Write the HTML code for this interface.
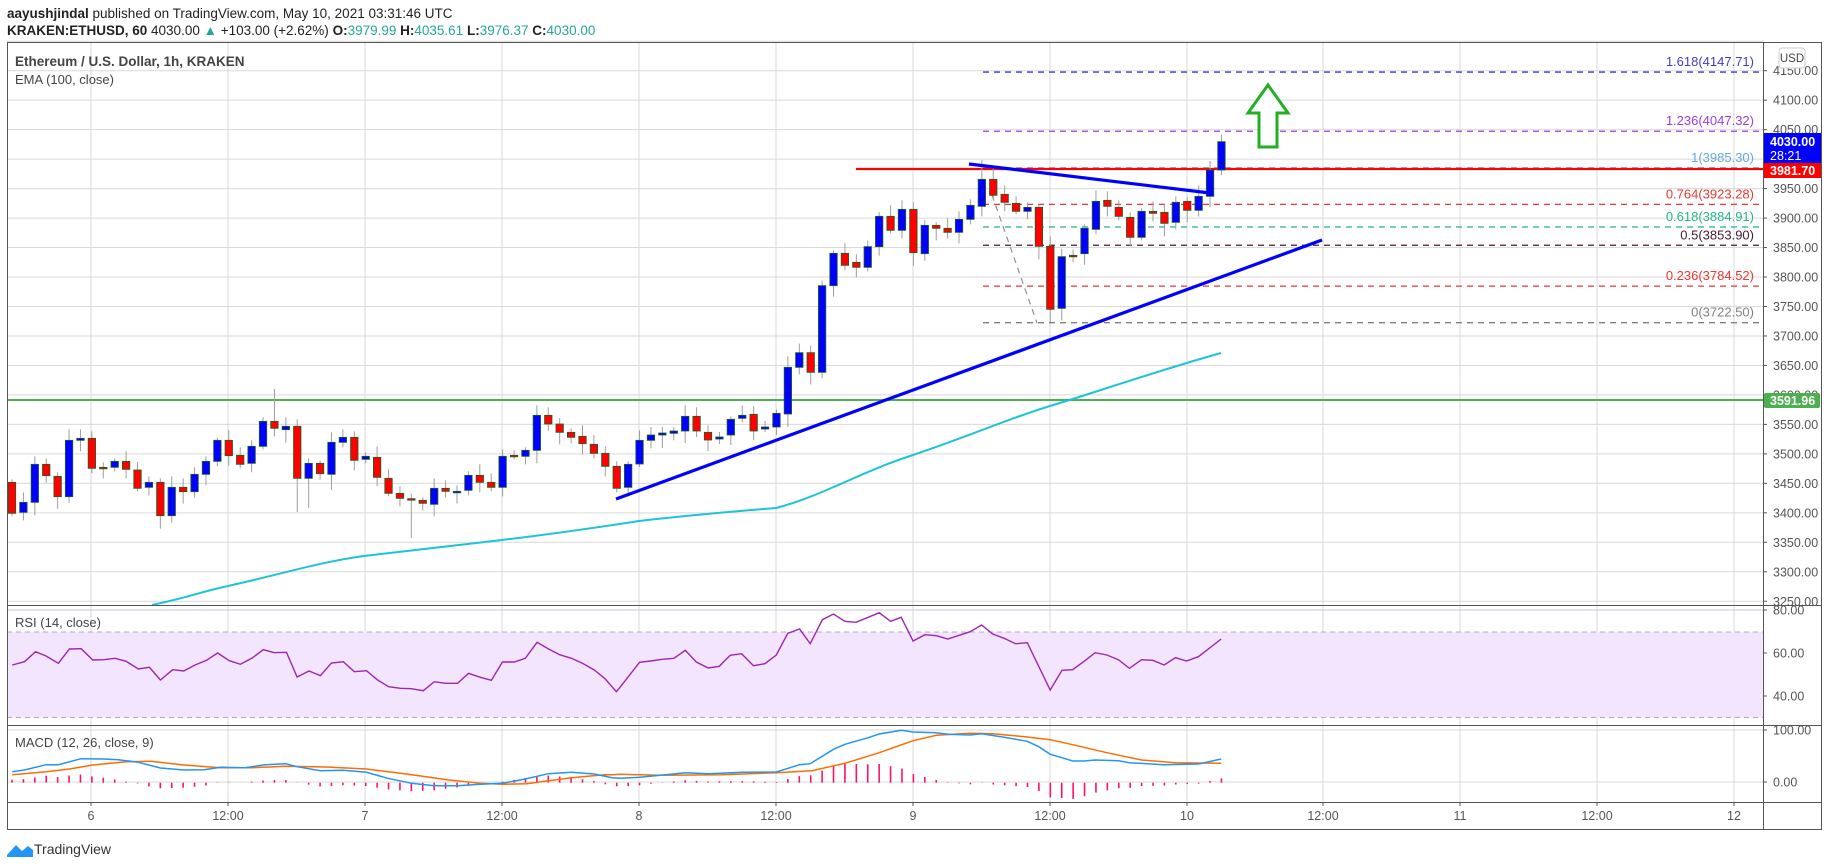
<!DOCTYPE html>
<html><head><meta charset="utf-8"><style>
html,body{margin:0;padding:0;background:#fff;width:1828px;height:867px;overflow:hidden;font-family:"Liberation Sans",sans-serif}
svg text{font-family:"Liberation Sans",sans-serif}
</style></head><body>
<svg id="s" width="1828" height="867" xmlns="http://www.w3.org/2000/svg">
<rect width="1828" height="867" fill="#fff"/>
<text x="7" y="18" font-size="13.5" fill="#222"><tspan font-weight="bold">aayushjindal</tspan> published on TradingView.com, May 10, 2021 03:31:46 UTC</text>
<text x="7" y="35" font-size="13.5" fill="#222"><tspan font-weight="bold">KRAKEN:ETHUSD, 60</tspan> 4030.00 <tspan fill="#26a69a">▲</tspan> +103.00 (+2.62%) <tspan font-weight="bold">O:</tspan><tspan fill="#26a69a">3979.99</tspan> <tspan font-weight="bold">H:</tspan><tspan fill="#26a69a">4035.61</tspan> <tspan font-weight="bold">L:</tspan><tspan fill="#26a69a">3976.37</tspan> <tspan font-weight="bold">C:</tspan><tspan fill="#26a69a">4030.00</tspan></text>
<g id="grid"></g>
<rect x="7" y="632" width="1756" height="85.5" fill="#f3e5fd"/>
<line x1="7" y1="632" x2="1763" y2="632" stroke="#b9a8c4" stroke-dasharray="5,4"/>
<line x1="7" y1="717.5" x2="1763" y2="717.5" stroke="#b9a8c4" stroke-dasharray="5,4"/>
<g id="fib"></g>
<g id="draw"></g>
<g id="candles"></g>
<g id="ind"></g>
<rect x="7.5" y="42.5" width="1814" height="787" fill="none" stroke="#555"/>
<line x1="1763.5" y1="42" x2="1763.5" y2="830" stroke="#555"/>
<line x1="7" y1="605.5" x2="1822" y2="605.5" stroke="#555"/>
<line x1="7" y1="725.5" x2="1822" y2="725.5" stroke="#555"/>
<line x1="7" y1="802.5" x2="1822" y2="802.5" stroke="#555"/>
<g id="axis" font-size="12.5" fill="#555"></g>
<text x="15" y="66" font-size="13.5" font-weight="bold" fill="#444">Ethereum / U.S. Dollar, 1h, KRAKEN</text>
<text x="15" y="84" font-size="13" fill="#444">EMA (100, close)</text>
<text x="15" y="627" font-size="13" fill="#444">RSI (14, close)</text>
<text x="15" y="747" font-size="13" fill="#444">MACD (12, 26, close, 9)</text>
<rect x="1779" y="48" width="26" height="20" rx="3" fill="#fff" stroke="#ccc"/>
<text x="1792" y="62" font-size="11.5" fill="#444" text-anchor="middle">USD</text>
<rect x="1764" y="133" width="57" height="31" fill="#0000ff"/>
<text x="1770" y="146" font-size="12.5" font-weight="bold" fill="#fff">4030.00</text>
<text x="1770" y="160" font-size="12.5" fill="#fff">28:21</text>
<rect x="1764" y="163" width="57" height="15" fill="#ff0000"/>
<text x="1770" y="175" font-size="12.5" font-weight="bold" fill="#fff">3981.70</text>
<rect x="1764" y="393" width="56" height="15" rx="2" fill="#4caf50"/>
<text x="1770" y="405" font-size="12.5" font-weight="bold" fill="#fff">3591.96</text>
<path d="M7 855 L16 845 L22 851 L28 846 L33 850 L33 857 L7 857 Z" fill="#2196f3"/>
<text x="34" y="854" font-size="14" fill="#333">TradingView</text>
</svg>
<script>
var NS="http://www.w3.org/2000/svg";
function el(p,t,a,txt){var e=document.createElementNS(NS,t);for(var k in a)e.setAttribute(k,a[k]);if(txt!==undefined)e.textContent=txt;document.getElementById(p).appendChild(e);return e;}
function Y(p){return 70.7+(4150-p)*0.5895;}
var vx=[91,228,365,502,639,776,913,1050,1187,1323,1460,1597,1734];
var vl=["6","12:00","7","12:00","8","12:00","9","12:00","10","12:00","11","12:00","12"];
vx.forEach(function(x,i){el("grid","line",{x1:x,y1:42,x2:x,y2:802,stroke:"#d9d9d9"});
 el("axis","line",{x1:x,y1:802,x2:x,y2:806,stroke:"#555"});
 el("axis","text",{x:x,y:820,"text-anchor":"middle"},vl[i]);});
for(var p=4200;p>=3250;p-=50){var y=Y(p);el("grid","line",{x1:7,y1:y,x2:1763,y2:y,stroke:"#d9d9d9"});
 if(p<=4150){el("axis","line",{x1:1763,y1:y,x2:1767,y2:y,stroke:"#555"});el("axis","text",{x:1773,y:y+4.5},p.toFixed(2));}}
[[80,610],[60,653],[40,696]].forEach(function(a){el("grid","line",{x1:7,y1:a[1],x2:1763,y2:a[1],stroke:"#d0c0da"});
 el("axis","line",{x1:1763,y1:a[1],x2:1767,y2:a[1],stroke:"#555"});el("axis","text",{x:1773,y:a[1]+4.5},a[0].toFixed(2));});
[[100,730],[0,782]].forEach(function(a){el("grid","line",{x1:7,y1:a[1],x2:1763,y2:a[1],stroke:"#d9d9d9"});
 el("axis","line",{x1:1763,y1:a[1],x2:1767,y2:a[1],stroke:"#555"});el("axis","text",{x:1773,y:a[1]+4.5},a[0].toFixed(2));});
var fib=[["1.618(4147.71)",4147.71,"#3d3dc8"],["1.236(4047.32)",4047.32,"#9c3ddc"],["1(3985.30)",3985.30,"#64a8e0"],["0.764(3923.28)",3923.28,"#e53935"],["0.618(3884.91)",3884.91,"#26b58a"],["0.5(3853.90)",3853.90,"#4a1a30"],["0.236(3784.52)",3784.52,"#e53935"],["0(3722.50)",3722.50,"#808080"]];
fib.forEach(function(f){var y=Y(f[1]);el("fib","line",{x1:983,y1:y,x2:1763,y2:y,stroke:f[2],"stroke-width":1.3,"stroke-dasharray":"6,5"});
 el("fib","text",{x:1754,y:y-6,"text-anchor":"end","font-size":"13",fill:f[2]},f[0]);});
el("draw","line",{x1:7,y1:400,x2:1763,y2:400,stroke:"#4caf50","stroke-width":2});
el("draw","line",{x1:856,y1:169,x2:1763,y2:169,stroke:"#ff0000","stroke-width":2.2});
el("draw","line",{x1:992,y1:195,x2:1037,y2:323,stroke:"#909090","stroke-width":1.2,"stroke-dasharray":"6,5"});
el("draw","path",{d:"M1268 85 L1288 113 L1277 113 L1277 147 L1259 147 L1259 113 L1248 113 Z",fill:"#fff",stroke:"#22b022","stroke-width":3,"stroke-linejoin":"miter"});
var A=[[307,400],[397,367],[367,253],[253,287],[289,350],[350,181],[181,175],[175,265],[262,265],[262,244],[244,268],[270,325],[322,307],[307,407],[407,322],[322,335],[335,283],[283,244],[244,181],[181,227],[226,253],[250,199],[199,124],[124,145],[149,139],[139,295],[295,250],[250,281],[283,187],[187,172],[172,241],[238,229],[232,292],[295,340],[340,355],[356,358],[361,370],[373,325],[325,334],[337,334],[331,286],[286,307],[307,322],[322,229],[226,229],[229,211],[211,106],[106,132],[132,157],[157,172],[169,191],[193,220],[220,259],[259,325],[322,253]];
var B=[[972,901],[901,885],[885,879],[880,873],[873,829],[829,873],[877,900],[897,891],[885,838],[835,826],[823,873],[867,861],[861,820],[822,682],[682,638],[638,697],[697,437],[437,340],[340,376],[367,382],[382,320],[320,229],[229,271],[271,208],[208,338],[341,256],[256,265],[265,277],[277,238],[238,196],[199,118],[118,166],[163,187],[190,214],[214,202],[202,319],[319,508],[505,350],[346,349],[341,265],[268,184],[181,199],[202,229],[232,292],[292,214],[214,220],[217,250],[247,187],[184,211],[211,169],[169,90],[90,5]];
var C=[];A.forEach(function(a){C.push([380+a[0]/3,380+a[1]/3]);});B.forEach(function(b){C.push([140+b[0]/3,140+b[1]/3]);});
var wk={23:[389,null],35:[null,538],25:[null,512],26:[null,508],91:[null,322],85:[160,null],28:[null,490]};
C.forEach(function(c,i){var x=12+i*11.41;var top=Math.min(c[0],c[1]),bot=Math.max(c[0],c[1]);
 var up=c[1]<c[0];var wt=top-3-(i*7%9),wb=bot+3+(i*5%11);
 if(wk[i]){if(wk[i][0])wt=wk[i][0];if(wk[i][1])wb=wk[i][1];}
 el("candles","line",{x1:x,y1:wt,x2:x,y2:wb,stroke:"#9e9e9e","stroke-width":1});
 var h=Math.max(bot-top,1.5);
 el("candles","rect",{x:x-3.7,y:top,width:7.4,height:h,fill:up?"#0000ff":"#ff0000",stroke:"#1b5e20","stroke-width":0.8});});
el("candles","line",{x1:616,y1:499,x2:1322,y2:240,stroke:"#0000ff","stroke-width":3.2});
el("candles","line",{x1:969,y1:164,x2:1210,y2:193,stroke:"#0000ff","stroke-width":3.2});
el("candles","path",{d:"M152 605 C190 597 200 592 228 586 C290 572 320 562 364 556 C430 548 460 545 502 540 C560 533 600 527 639 521 C700 514 740 511 776 508 C820 497 860 472 913 455 C970 436 1010 418 1050 406 C1100 391 1150 373 1221 353",fill:"none",stroke:"#1ec3d8","stroke-width":2});
function conv(list,x0){return list.map(function(p){return [x0+p[0]/2.45,600+p[1]/3];});}
function pl(pts,col,w){el("ind","polyline",{points:pts.map(function(p){return p[0].toFixed(1)+","+p[1].toFixed(1)}).join(" "),fill:"none",stroke:col,"stroke-width":w});}
var r6=[[30,195],[60,185],[87,155],[113,168],[143,190],[170,147],[199,146],[227,180],[254,179],[282,175],[309,184],[339,207],[366,202],[393,240],[423,209],[450,213],[478,195],[506,181],[533,159],[562,182],[589,193],[618,174],[645,149],[672,158],[702,157],[728,231],[757,213],[785,227],[812,189],[841,185],[868,215],[898,212],[925,240],[952,260],[981,265],[1008,266],[1037,272],[1064,245],[1091,250],[1121,250],[1148,220],[1177,232],[1204,241],[1231,186],[1260,186],[1287,175],[1316,127],[1343,146],[1371,164],[1400,175],[1427,190],[1456,210],[1483,237],[1510,275]];
var r7=[[0,262],[48,187],[75,183],[104,178],[132,175],[160,151],[187,186],[216,204],[243,199],[270,166],[298,161],[327,197],[355,191],[383,165],[411,100],[440,87],[466,131],[496,59],[523,42],[551,64],[578,67],[608,52],[635,38],[663,64],[689,52],[718,123],[747,104],[775,107],[803,117],[831,106],[858,95],[886,75],[913,102],[941,115],[969,131],[998,128],[1054,270],[1083,211],[1109,209],[1137,184],[1164,158],[1193,165],[1221,179],[1248,205],[1278,179],[1305,181],[1333,195],[1361,173],[1388,183],[1417,170],[1473,117]];
pl(conv(r6,0).concat(conv(r7,620)),"#9c27b0",1.4);
var b6=[[30,515],[60,510],[113,494],[143,494],[199,476],[254,477],[290,479],[339,487],[393,504],[450,510],[500,509],[540,502],[600,503],[650,494],[700,491],[728,500],[785,512],[841,511],[898,517],[950,535],[1008,550],[1064,557],[1121,557],[1177,553],[1231,550],[1287,537],[1343,521],[1400,517],[1456,522],[1500,533]];
var b7=[[0,535],[48,532],[130,522],[160,518],[216,521],[300,517],[383,516],[440,494],[466,491],[523,448],[551,433],[608,413],[635,402],[689,391],[718,396],[775,398],[803,403],[858,405],[886,401],[941,412],[998,424],[1026,440],[1054,463],[1083,473],[1109,483],[1137,483],[1164,480],[1221,482],[1248,488],[1333,494],[1417,492],[1473,477]];
var o6=[[30,524],[113,515],[170,507],[227,495],[310,485],[370,484],[450,495],[540,503],[620,503],[700,499],[800,501],[898,507],[1000,523],[1100,540],[1177,550],[1231,553],[1290,551],[1400,533],[1480,524],[1500,524]];
var o7=[[0,523],[100,526],[250,524],[383,518],[470,512],[551,490],[635,458],[718,422],[775,406],[858,400],[913,401],[998,411],[1054,419],[1109,434],[1193,458],[1278,480],[1361,488],[1473,490]];
var BL=conv(b6,0).concat(conv(b7,620)),OR=conv(o6,0).concat(conv(o7,620));
function interp(L,x){for(var i=0;i<L.length-1;i++){if(x>=L[i][0]&&x<=L[i+1][0]){var t=(x-L[i][0])/(L[i+1][0]-L[i][0]);return L[i][1]+t*(L[i+1][1]-L[i][1]);}}return x<L[0][0]?L[0][1]:L[L.length-1][1];}
for(var i=0;i<107;i++){var x=12+i*11.41;var d=interp(OR,x)-interp(BL,x);var z=782.7;
 el("ind","line",{x1:x,y1:z,x2:x,y2:z-d,stroke:"#ff1070","stroke-width":1.6});}
pl(OR,"#ff6d00",1.5);
pl(BL,"#2196f3",1.5);
</script>
</body></html>
